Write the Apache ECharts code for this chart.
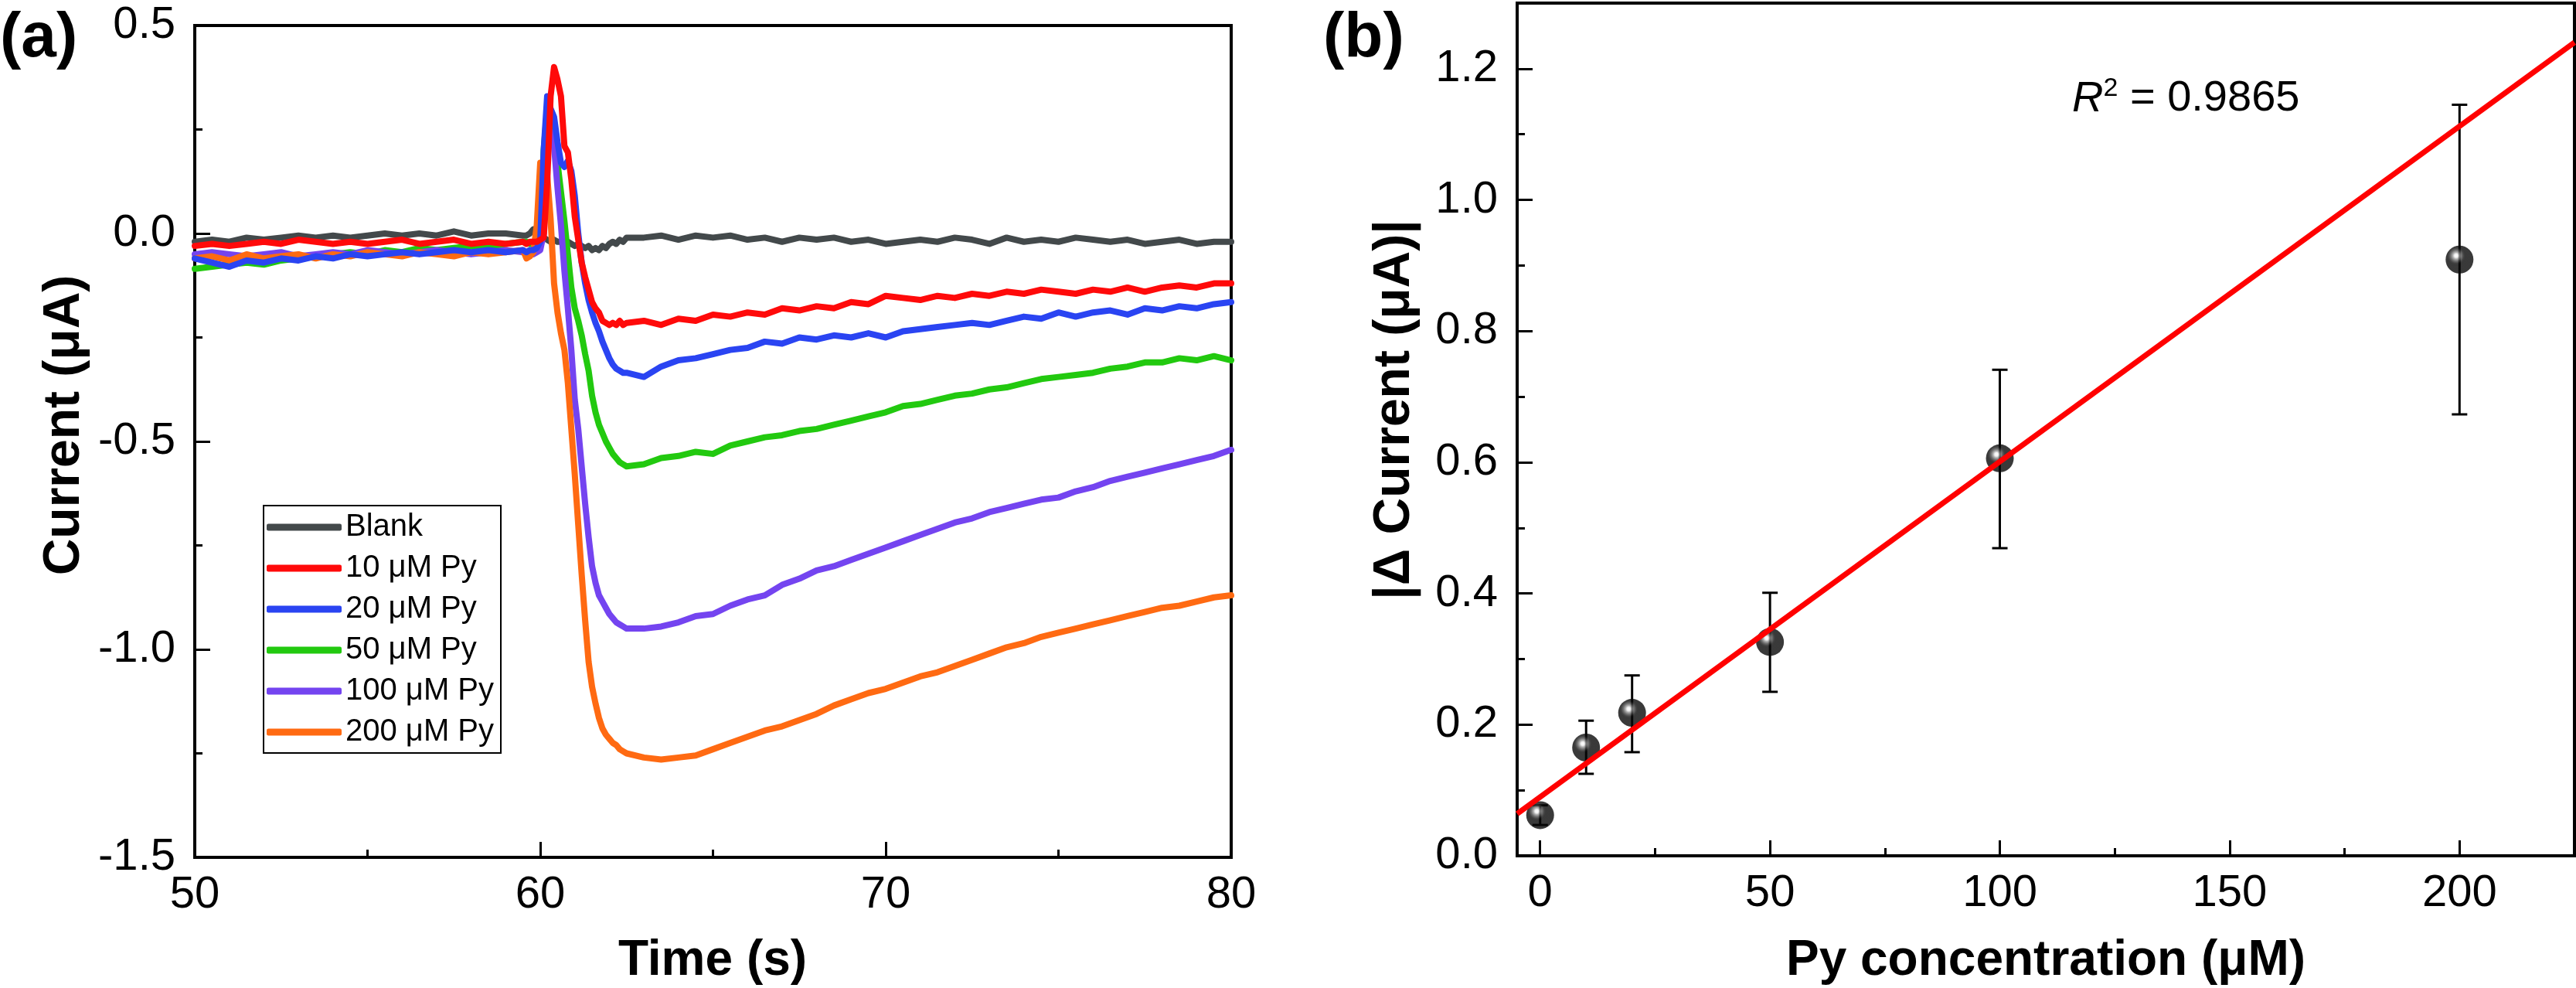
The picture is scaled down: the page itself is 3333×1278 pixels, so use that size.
<!DOCTYPE html>
<html>
<head>
<meta charset="utf-8">
<script src="https://cdn.jsdelivr.net/npm/echarts@6/dist/echarts.min.js"></script>
<style>
html,body{margin:0;padding:0;background:#fff;}
#c{width:3333px;height:1278px;}
</style>
</head>
<body>
<div id="c"></div>
<script>
// ---------- Panel (a): time traces ----------
const timeS = [50,50.5,51,51.5,52,52.5,53,53.5,54,54.5,55,55.5,56,56.5,57,57.5,58,58.5,59,59.5,
  59.6,59.7,59.8,59.9,60,60.1,60.2,60.3,60.4,60.5,60.6,60.7,60.8,60.9,61,61.1,61.2,61.3,61.4,61.5,61.6,61.7,61.8,61.9,62,62.1,62.2,62.3,62.4,62.5,
  63,63.5,64,64.5,65,65.5,66,66.5,67,67.5,68,68.5,69,69.5,70,70.5,71,71.5,72,72.5,73,73.5,74,74.5,75,75.5,76,76.5,77,77.5,78,78.5,79,79.5,80];

const blank = [-0.02,-0.015,-0.02,-0.01,-0.015,-0.01,-0.005,-0.01,-0.005,-0.01,-0.005,0,-0.005,0,-0.005,0.005,-0.005,0,0,-0.005,
  -0.005,0,0.01,0.005,-0.005,-0.01,-0.015,-0.02,-0.015,-0.02,-0.02,-0.025,-0.02,-0.025,-0.03,-0.025,-0.03,-0.035,-0.03,-0.04,-0.035,-0.04,-0.03,-0.035,-0.025,-0.02,-0.025,-0.015,-0.02,-0.01,
  -0.01,-0.005,-0.015,-0.005,-0.01,-0.005,-0.015,-0.01,-0.02,-0.01,-0.015,-0.01,-0.02,-0.015,-0.025,-0.02,-0.015,-0.02,-0.01,-0.015,-0.025,-0.01,-0.02,-0.015,-0.02,-0.01,-0.015,-0.02,-0.015,-0.025,-0.02,-0.015,-0.025,-0.02,-0.02];

const py10 = [-0.03,-0.025,-0.03,-0.025,-0.02,-0.025,-0.015,-0.02,-0.025,-0.02,-0.025,-0.02,-0.015,-0.025,-0.02,-0.015,-0.025,-0.02,-0.025,-0.02,
  -0.025,-0.02,-0.02,-0.02,-0.015,-0.01,0.12,0.33,0.40,0.37,0.33,0.21,0.195,0.13,0.04,-0.015,-0.07,-0.105,-0.135,-0.165,-0.18,-0.19,-0.21,-0.215,-0.22,-0.215,-0.22,-0.21,-0.22,-0.215,
  -0.21,-0.22,-0.205,-0.21,-0.195,-0.2,-0.19,-0.195,-0.18,-0.185,-0.175,-0.18,-0.165,-0.17,-0.15,-0.155,-0.16,-0.15,-0.155,-0.145,-0.15,-0.14,-0.145,-0.135,-0.14,-0.145,-0.135,-0.14,-0.13,-0.14,-0.13,-0.125,-0.13,-0.12,-0.12];

const py20 = [-0.06,-0.07,-0.08,-0.065,-0.07,-0.06,-0.065,-0.055,-0.06,-0.05,-0.055,-0.05,-0.045,-0.05,-0.045,-0.04,-0.045,-0.04,-0.045,-0.04,
  -0.045,-0.04,-0.04,-0.035,-0.02,0.2,0.33,0.30,0.28,0.22,0.17,0.16,0.175,0.15,0.09,0.0,-0.07,-0.12,-0.16,-0.19,-0.215,-0.235,-0.26,-0.28,-0.3,-0.315,-0.325,-0.33,-0.335,-0.335,
  -0.345,-0.32,-0.305,-0.3,-0.29,-0.28,-0.275,-0.26,-0.265,-0.25,-0.255,-0.245,-0.25,-0.24,-0.25,-0.235,-0.23,-0.225,-0.22,-0.215,-0.22,-0.21,-0.2,-0.205,-0.19,-0.2,-0.19,-0.185,-0.195,-0.18,-0.185,-0.175,-0.18,-0.17,-0.165];

const py50 = [-0.085,-0.08,-0.075,-0.07,-0.075,-0.065,-0.06,-0.055,-0.05,-0.045,-0.05,-0.04,-0.045,-0.035,-0.04,-0.035,-0.03,-0.035,-0.025,-0.02,
  -0.02,-0.025,-0.02,-0.02,0.0,0.2,0.3,0.27,0.22,0.17,0.1,0.03,-0.05,-0.13,-0.18,-0.21,-0.245,-0.29,-0.33,-0.39,-0.43,-0.46,-0.48,-0.5,-0.515,-0.53,-0.54,-0.55,-0.555,-0.56,
  -0.555,-0.54,-0.535,-0.525,-0.53,-0.51,-0.5,-0.49,-0.485,-0.475,-0.47,-0.46,-0.45,-0.44,-0.43,-0.415,-0.41,-0.4,-0.39,-0.385,-0.375,-0.37,-0.36,-0.35,-0.345,-0.34,-0.335,-0.325,-0.32,-0.31,-0.31,-0.3,-0.305,-0.295,-0.305];

const py100 = [-0.05,-0.045,-0.05,-0.055,-0.05,-0.045,-0.055,-0.05,-0.045,-0.05,-0.04,-0.045,-0.05,-0.045,-0.04,-0.045,-0.05,-0.045,-0.04,-0.045,
  -0.05,-0.045,-0.05,-0.045,-0.04,0.0,0.2,0.245,0.21,0.11,0.02,-0.09,-0.18,-0.28,-0.4,-0.47,-0.56,-0.65,-0.73,-0.8,-0.84,-0.87,-0.885,-0.9,-0.915,-0.925,-0.935,-0.94,-0.945,-0.95,
  -0.95,-0.945,-0.935,-0.92,-0.915,-0.895,-0.88,-0.87,-0.845,-0.83,-0.81,-0.8,-0.785,-0.77,-0.755,-0.74,-0.725,-0.71,-0.695,-0.685,-0.67,-0.66,-0.65,-0.64,-0.635,-0.62,-0.61,-0.595,-0.585,-0.575,-0.565,-0.555,-0.545,-0.535,-0.52];

const py200 = [-0.06,-0.055,-0.065,-0.05,-0.06,-0.055,-0.05,-0.06,-0.05,-0.055,-0.045,-0.05,-0.055,-0.045,-0.05,-0.055,-0.045,-0.05,-0.045,-0.04,
  -0.06,-0.055,-0.045,0.02,0.17,0.16,0.14,0.035,-0.12,-0.19,-0.24,-0.28,-0.36,-0.47,-0.58,-0.7,-0.82,-0.93,-1.03,-1.09,-1.13,-1.165,-1.19,-1.205,-1.215,-1.225,-1.23,-1.24,-1.245,-1.25,
  -1.26,-1.265,-1.26,-1.255,-1.24,-1.225,-1.21,-1.195,-1.185,-1.17,-1.155,-1.135,-1.12,-1.105,-1.095,-1.08,-1.065,-1.055,-1.04,-1.025,-1.01,-0.995,-0.985,-0.97,-0.96,-0.95,-0.94,-0.93,-0.92,-0.91,-0.9,-0.895,-0.885,-0.875,-0.87];

const traceNames = ['Blank','10 μM Py','20 μM Py','50 μM Py','100 μM Py','200 μM Py'];
const traceColors = ['#43494b','#ff0a0a','#2a44f2','#22c90f','#7444f0','#ff6a12'];

// ---------- Panel (b): calibration ----------
const concX   = [0, 10, 20, 50, 100, 200];
const deltaI  = [0.062, 0.165, 0.218, 0.326, 0.606, 0.909];
const errLow  = [0.047, 0.125, 0.158, 0.250, 0.469, 0.673];
const errHigh = [0.077, 0.206, 0.275, 0.401, 0.741, 1.145];
const fitX = [-5, 225];
const fitY = [0.064, 1.240];

const bXTicks = [0, 50, 100, 150, 200];
const bXMinor = [25, 75, 125, 175];
const bYTicks = [0, 0.2, 0.4, 0.6, 0.8, 1.0, 1.2];
const bYMinor = [0.1, 0.3, 0.5, 0.7, 0.9, 1.1];

const FF = '"Liberation Sans", Arial, Helvetica, sans-serif';
const chart = echarts.init(document.getElementById('c'), null, {renderer: 'canvas'});

const zip = (xs, ys) => xs.map((x, i) => [x, ys[i]]);
const traceArrays = [blank, py10, py20, py50, py100, py200];
const drawOrder = [0, 3, 4, 5, 2, 1];

const axisLineStyle = {onZero: false, lineStyle: {color: '#000', width: 4}};
const tickLbl = {color: '#000', fontSize: 58, fontFamily: FF};

const lineSeries = drawOrder.map(k => ({
  name: traceNames[k],
  type: 'line',
  xAxisIndex: 0, yAxisIndex: 0,
  data: zip(timeS, traceArrays[k]),
  symbol: 'none', showSymbol: false,
  lineStyle: {width: 8, color: traceColors[k], join: 'round', cap: 'round'},
  itemStyle: {color: traceColors[k]},
  z: 2
}));

const sphere = {
  type: 'radial', x: 0.38, y: 0.36, r: 0.32,
  colorStops: [
    {offset: 0, color: '#ffffff'},
    {offset: 0.2, color: '#eeeeee'},
    {offset: 0.38, color: '#9a9a9a'},
    {offset: 0.62, color: '#4a4a4a'},
    {offset: 0.85, color: '#141414'},
    {offset: 1, color: '#080808'}
  ]
};

const option = {
  animation: false,
  backgroundColor: '#fff',
  grid: [
    {left: 252, top: 33, width: 1341, height: 1076, show: true, borderColor: '#000', borderWidth: 4, backgroundColor: 'transparent'},
    {left: 1963, top: 4, width: 1368, height: 1103, show: true, borderColor: '#000', borderWidth: 4, backgroundColor: 'transparent'}
  ],
  xAxis: [
    {gridIndex: 0, type: 'value', min: 50, max: 80, interval: 10,
      axisLine: axisLineStyle,
      axisTick: {inside: true, length: 20, lineStyle: {width: 3, color: '#000'}},
      minorTick: {show: true, splitNumber: 2, length: 10, lineStyle: {width: 3, color: '#000'}},
      splitLine: {show: false},
      axisLabel: Object.assign({margin: 20}, tickLbl)},
    {gridIndex: 1, type: 'value', min: -5, max: 225, position: 'bottom',
      axisLine: axisLineStyle,
      axisTick: {inside: true, length: 20, customValues: bXTicks, lineStyle: {width: 3, color: '#000'}},
      splitLine: {show: false},
      axisLabel: Object.assign({margin: 20, customValues: bXTicks}, tickLbl)},
    {gridIndex: 1, type: 'value', min: -5, max: 225, position: 'bottom',
      axisLine: {show: false, onZero: false},
      axisTick: {inside: true, length: 10, customValues: bXMinor, lineStyle: {width: 3, color: '#000'}},
      splitLine: {show: false},
      axisLabel: {show: false}}
  ],
  yAxis: [
    {gridIndex: 0, type: 'value', min: -1.5, max: 0.5, interval: 0.5,
      axisLine: axisLineStyle,
      axisTick: {inside: true, length: 20, lineStyle: {width: 3, color: '#000'}},
      minorTick: {show: true, splitNumber: 2, length: 10, lineStyle: {width: 3, color: '#000'}},
      splitLine: {show: false},
      axisLabel: Object.assign({margin: 25, formatter: v => v.toFixed(1)}, tickLbl)},
    {gridIndex: 1, type: 'value', min: 0, max: 1.3, position: 'left',
      axisLine: axisLineStyle,
      axisTick: {inside: true, length: 20, customValues: bYTicks, lineStyle: {width: 3, color: '#000'}},
      splitLine: {show: false},
      axisLabel: Object.assign({margin: 25, customValues: bYTicks, formatter: v => v.toFixed(1)}, tickLbl)},
    {gridIndex: 1, type: 'value', min: 0, max: 1.3, position: 'left',
      axisLine: {show: false, onZero: false},
      axisTick: {inside: true, length: 10, customValues: bYMinor, lineStyle: {width: 3, color: '#000'}},
      splitLine: {show: false},
      axisLabel: {show: false}}
  ],
  legend: {
    data: traceNames,
    orient: 'vertical',
    left: 341, top: 654,
    icon: 'roundRect',
    itemWidth: 97, itemHeight: 9, itemGap: 9,
    padding: [6, 9, 5, 4],
    borderColor: '#000', borderWidth: 2, backgroundColor: '#fff',
    textStyle: {fontSize: 40, lineHeight: 44, fontFamily: FF, color: '#000'},
    selectedMode: false
  },
  series: lineSeries.concat([
    {
      type: 'custom', xAxisIndex: 1, yAxisIndex: 1,
      data: concX.map((x, i) => [x, errLow[i], errHigh[i]]),
      encode: {x: 0, y: [1, 2]},
      renderItem: function (params, api) {
        const x = api.value(0);
        const p1 = api.coord([x, api.value(1)]);
        const p2 = api.coord([x, api.value(2)]);
        const w = 10;
        const st = {stroke: '#000', lineWidth: 3};
        return {type: 'group', children: [
          {type: 'line', shape: {x1: p1[0], y1: p1[1], x2: p2[0], y2: p2[1]}, style: st},
          {type: 'line', shape: {x1: p1[0] - w, y1: p1[1], x2: p1[0] + w, y2: p1[1]}, style: st},
          {type: 'line', shape: {x1: p2[0] - w, y1: p2[1], x2: p2[0] + w, y2: p2[1]}, style: st}
        ]};
      },
      z: 3
    },
    {
      type: 'scatter', xAxisIndex: 1, yAxisIndex: 1,
      data: zip(concX, deltaI),
      symbol: 'circle', symbolSize: 36,
      itemStyle: {color: sphere},
      z: 4
    },
    {
      type: 'line', xAxisIndex: 1, yAxisIndex: 1,
      data: zip(fitX, fitY),
      symbol: 'none', showSymbol: false,
      lineStyle: {width: 7, color: '#ff0000'},
      z: 5
    }
  ]),
  graphic: [
    {type: 'text', x: 0, y: 50, style: {text: '(a)', font: 'bold 82px ' + FF, fill: '#000', align: 'left', verticalAlign: 'middle', textAlign: 'left', textVerticalAlign: 'middle'}},
    {type: 'text', x: 1712, y: 50, style: {text: '(b)', font: 'bold 82px ' + FF, fill: '#000', align: 'left', verticalAlign: 'middle', textAlign: 'left', textVerticalAlign: 'middle'}},
    {type: 'text', x: 922, y: 1243, style: {text: 'Time (s)', font: 'bold 64px ' + FF, fill: '#000', align: 'center', verticalAlign: 'middle', textAlign: 'center', textVerticalAlign: 'middle'}},
    {type: 'text', x: 2647, y: 1243, style: {text: 'Py concentration (μM)', font: 'bold 64px ' + FF, fill: '#000', align: 'center', verticalAlign: 'middle', textAlign: 'center', textVerticalAlign: 'middle'}},
    {type: 'text', x: 84, y: 550, rotation: Math.PI / 2, style: {text: 'Current (μA)', font: 'bold 66px ' + FF, fill: '#000', align: 'center', verticalAlign: 'middle', textAlign: 'center', textVerticalAlign: 'middle'}},
    {type: 'text', x: 1805, y: 530, rotation: Math.PI / 2, style: {text: '|Δ Current (μA)|', font: 'bold 66px ' + FF, fill: '#000', align: 'center', verticalAlign: 'middle', textAlign: 'center', textVerticalAlign: 'middle'}},
    {type: 'text', x: 2681, y: 128, style: {
      text: '{i|R}{s|2}{n| = 0.9865}',
      font: '56px ' + FF, fill: '#000', align: 'left', verticalAlign: 'middle', textAlign: 'left', textVerticalAlign: 'middle',
      rich: {
        i: {fontStyle: 'italic', fontSize: 56, fontFamily: FF, fill: '#000', lineHeight: 60},
        s: {fontSize: 34, fontFamily: FF, fill: '#000', verticalAlign: 'top', lineHeight: 60},
        n: {fontSize: 56, fontFamily: FF, fill: '#000', lineHeight: 60}
      }
    }}
  ]
};
chart.setOption(option);
</script>
</body>
</html>
